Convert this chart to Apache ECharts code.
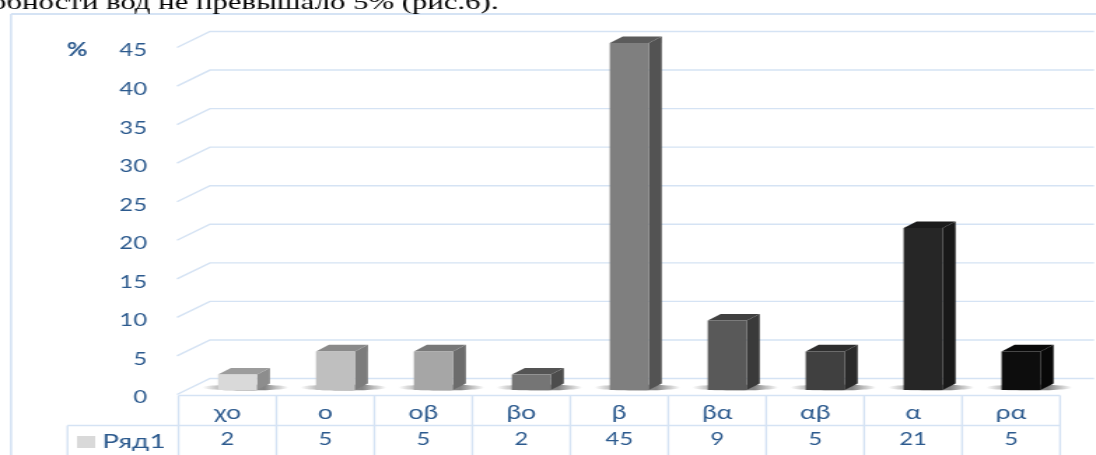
<!DOCTYPE html>
<html><head><meta charset="utf-8">
<style>
html,body{margin:0;padding:0;background:#fff;overflow:hidden;width:1096px;height:455px}
#c{width:783px;height:455px;transform:scaleX(1.39974);transform-origin:0 0}
</style>
<script src="https://cdn.jsdelivr.net/npm/echarts@6/dist/echarts.min.js"></script>
</head><body><div id="c"></div>
<script>
const categories = ['χο','ο','οβ','βο','β','βα','αβ','α','ρα'];
const values = [2,5,5,2,45,9,5,21,5];
const yTicks = [0,5,10,15,20,25,30,35,40,45];
const barColors = ['#d9d9d9','#bfbfbf','#a6a6a6','#757575','#7f7f7f','#595959','#404040','#262626','#0d0d0d'];
const seriesName = 'Ряд1';
const caption = 'обности вод не превышало 5% (рис.6).';

const S = 1096/783;
const X = v => v/S;
const TEXT = '#2c5a8e', LINE = '#d5e3f4';
const FONT = 'Lato, "Open Sans", sans-serif';
const shade = (hex,f) => {
  const n = parseInt(hex.slice(1),16);
  const c = s => Math.round(((n>>s)&255)*f);
  return `rgb(${c(16)},${c(8)},${c(0)})`;
};
const chart = echarts.init(document.getElementById('c'));

const tableX0 = 178.5, tableStep = 97.95;
const tableEls = [];
const ln = (x1,y1,x2,y2,w) => ({type:'line',silent:true,z:1,shape:{x1:X(x1),y1,x2:X(x2),y2},style:{stroke:LINE,lineWidth:w||1.5}});
for (let i=0;i<=categories.length;i++){ const x=tableX0+i*tableStep; tableEls.push(ln(x,395.5,x,455,1.4)); }
const tableX1 = tableX0+categories.length*tableStep;
tableEls.push(ln(tableX0,395.5,tableX1,395.5), ln(67.5,425.5,tableX1,425.5), ln(67.5,425.5,67.5,455,1.4));
tableEls.push(ln(11,14,1096,14,2), ln(11,14,11,455,1.6));
tableEls.push({type:'text',silent:true,z:5,x:X(-9),y:14,style:{text:caption,font:'22px "Liberation Serif"',fill:'#000',verticalAlign:'bottom'}});
tableEls.push({type:'text',silent:true,z:5,x:X(67),y:50,style:{text:'%',font:'bold 18px Lato',fill:TEXT,verticalAlign:'middle'}});

const SHIFT = 3;
chart.setOption({
  animation:false,
  backgroundColor:'#fff',
  grid:{left:X(tableX0),width:X(tableX1-tableX0),top:48+SHIFT,bottom:60-SHIFT,containLabel:false,outerBoundsMode:'none'},
  legend:{data:[seriesName],left:X(77),top:432,itemWidth:13,itemHeight:12,itemGap:7,icon:'rect',padding:0,
    textStyle:{color:TEXT,fontSize:20,fontFamily:FONT},selectedMode:false},
  xAxis:{type:'category',data:categories,axisLine:{show:false},axisTick:{show:false},splitLine:{show:false},
    axisLabel:{margin:1,color:TEXT,fontSize:17,fontFamily:FONT,interval:0,
      formatter:(v,i)=>'{c|'+v+'}\n{v|'+values[i]+'}',
      rich:{c:{fontSize:19,lineHeight:27,color:TEXT,fontFamily:FONT},v:{fontSize:17,lineHeight:27,color:TEXT,fontFamily:FONT}}}},
  yAxis:{type:'value',min:0,max:45,interval:5,axisLine:{show:false},axisTick:{show:false},splitLine:{show:false},
    axisLabel:{margin:X(31.5),color:TEXT,fontSize:17,fontFamily:FONT}},
  graphic:{elements:tableEls},
  series:[
    {type:'custom',name:'grid',silent:true,z:2,clip:false,data:yTicks.map(v=>[0,v]),encode:{x:0,y:1},
      renderItem:(p,api)=>{
        const y=api.coord([0,api.value(1)])[1]-0.5-SHIFT;
        const x0=p.coordSys.x-X(1.5);
        return {type:'polyline',shape:{points:[[x0,y],[X(210),y-16],[X(1094),y-16]]},style:{stroke:LINE,lineWidth:1.4,fill:null}};
      }},
    {type:'custom',name:seriesName,z:3,clip:false,itemStyle:{color:barColors[0]},
      data:values.map((v,i)=>[i,v]),encode:{x:0,y:1},
      renderItem:(p,api)=>{
        const i=api.value(0), v=api.value(1);
        const base=api.coord([i,0]), top=api.coord([i,v]);
        const w=X(39), dx=X(13), dy=6.6;
        const l=base[0]+X(10)-w/2, r=l+w, yb=base[1]-5-SHIFT, yt=top[1]-5-SHIFT;
        const col=barColors[i];
        return {type:'group',children:[
          {type:'ellipse',shape:{cx:l+w/2+X(8),cy:yb-2.5,rx:X(43),ry:3},
            style:{fill:new echarts.graphic.LinearGradient(0,0,1,0,[
              {offset:0,color:'rgba(80,80,80,0)'},{offset:.3,color:'rgba(80,80,80,.6)'},
              {offset:.72,color:'rgba(80,80,80,.7)'},{offset:1,color:'rgba(80,80,80,0)'}])}},
          {type:'polygon',shape:{points:[[r,yb],[r+dx,yb-dy],[r+dx,yt-dy],[r,yt]]},style:{fill:shade(col,.65)}},
          {type:'polygon',shape:{points:[[l,yt],[l+dx,yt-dy],[r+dx,yt-dy],[r,yt]]},style:{fill:shade(col,.72)}},
          {type:'rect',shape:{x:l,y:yt,width:w,height:yb-yt},style:{fill:col}}
        ]};
      }}
  ]
});
</script></body></html>
